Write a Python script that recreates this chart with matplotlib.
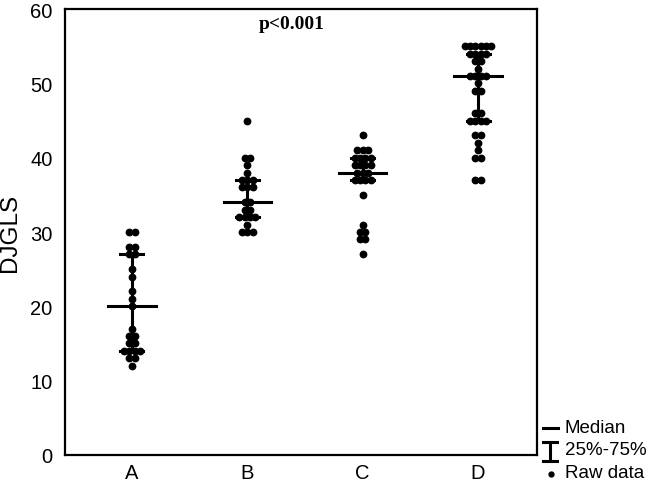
import numpy as np
import matplotlib
matplotlib.use('Agg')
import matplotlib.pyplot as plt
from matplotlib.lines import Line2D

plt.rcParams['font.family'] = ['Liberation Sans', 'DejaVu Sans']

groups = ['A', 'B', 'C', 'D']

vals_a = [30, 30, 28, 28, 27, 27, 25, 24, 22, 21, 20, 17, 16, 16, 15, 15,
          14, 14, 14, 14, 13, 13, 12]
vals_b = [45, 40, 40, 39, 38, 37, 37, 37, 36, 36, 36, 34, 34, 33, 33,
          32, 32, 32, 32, 31, 30, 30, 30]
vals_c = [43, 41, 41, 41, 40, 40, 40, 40, 39, 39, 39, 39, 38, 38, 38,
          37, 37, 37, 37, 35, 31, 30, 30, 29, 29, 27]
vals_d = [55, 55, 55, 55, 55, 55, 54, 54, 54, 54, 53, 53, 52, 51, 51, 51, 51,
          50, 49, 49, 46, 46, 45, 45, 45, 45, 43, 43, 42, 41, 40, 40, 37, 37]
raw = [vals_a, vals_b, vals_c, vals_d]

medians = [20, 34, 38, 51]
q1 = [14, 32, 37, 45]
q3 = [27, 37, 40, 54]

p_text = 'p<0.001'

fig = plt.figure(figsize=(6.5, 4.85), dpi=100)
ax = fig.add_axes([0.1, 0.06, 0.726, 0.919])

dot_step = 0.046
for i, v in enumerate(raw):
    v = np.array(v)
    xs = np.zeros(len(v))
    for u in np.unique(v):
        idx = np.where(v == u)[0]
        n = len(idx)
        xs[idx] = (np.arange(n) - (n - 1) / 2.0) * dot_step
    ax.plot(i + xs, v, 'o', color='black', markersize=4.6, zorder=3)

    # median and IQR bars
    ax.plot([i - 0.205, i + 0.205], [medians[i]] * 2, color='black', lw=2.2, zorder=4)
    ax.plot([i, i], [q1[i], q3[i]], color='black', lw=2.2, zorder=4)
    for q in (q1[i], q3[i]):
        ax.plot([i - 0.1, i + 0.1], [q, q], color='black', lw=2.2, zorder=4)

ax.set_xlim(-0.58, 3.51)
ax.set_ylim(0, 60)
ax.set_xticks(range(len(groups)))
ax.set_xticklabels(groups)
ax.set_yticks(range(0, 61, 10))
ax.tick_params(axis='both', length=0, labelsize=14.5)
ax.tick_params(axis='y', pad=9)
ax.tick_params(axis='x', pad=6)
for s in ax.spines.values():
    s.set_linewidth(1.6)
ax.set_ylabel('DJGLS', fontsize=17.5)
ax.yaxis.set_label_coords(-0.093, 0.5)

ax.text(0.48, 0.988, p_text, transform=ax.transAxes, ha='center', va='top',
        fontsize=14, fontweight='bold', family=['Liberation Serif', 'DejaVu Serif'])

# legend drawn by hand outside the axes
def fx(px):
    return px / 650.0

def fy(py):
    return 1 - py / 485.0

kw = dict(transform=fig.transFigure, color='black', lw=2.2)
fig.add_artist(Line2D([fx(543), fx(558)], [fy(429), fy(429)], **kw))
fig.add_artist(Line2D([fx(550), fx(550)], [fy(443), fy(462)], **kw))
fig.add_artist(Line2D([fx(543), fx(557)], [fy(443), fy(443)], **kw))
fig.add_artist(Line2D([fx(543), fx(557)], [fy(462), fy(462)], **kw))
fig.add_artist(Line2D([fx(551)], [fy(475)], marker='o', markersize=3.5,
                      color='black', transform=fig.transFigure))
for txt, py in [('Median', 429), ('25%-75%', 451), ('Raw data', 474)]:
    fig.text(fx(565), fy(py), txt, fontsize=13.5, va='center', ha='left')

fig.savefig('out.png', dpi=100)
